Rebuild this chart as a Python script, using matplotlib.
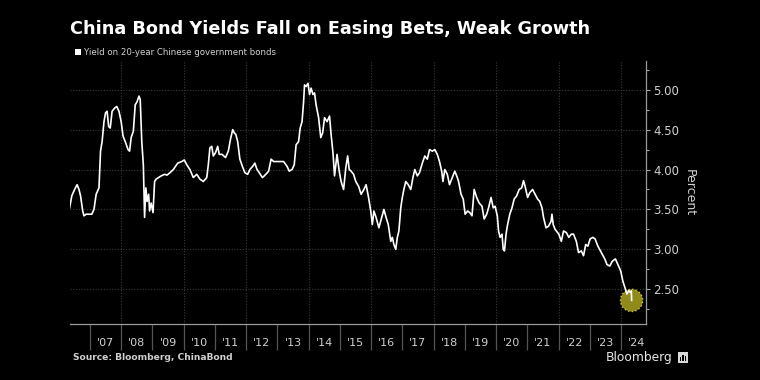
import matplotlib
matplotlib.use('Agg')
import matplotlib.pyplot as plt
from matplotlib.ticker import FixedLocator, MultipleLocator, FormatStrFormatter
from matplotlib.patches import Rectangle

# 20-year Chinese government bond yield
# time as decimal years, yield in percent
t = [2006.35, 2006.42, 2006.51, 2006.59, 2006.65, 2006.70, 2006.77, 2006.81, 2006.88,
     2007.06, 2007.13, 2007.20, 2007.29, 2007.34, 2007.39, 2007.45, 2007.50, 2007.55,
     2007.60, 2007.65, 2007.71, 2007.79, 2007.86, 2007.93, 2008.00, 2008.06, 2008.13,
     2008.22, 2008.27, 2008.32, 2008.39, 2008.45, 2008.51, 2008.57, 2008.61, 2008.66,
     2008.71, 2008.75, 2008.79, 2008.83, 2008.88, 2008.91, 2008.96, 2009.02, 2009.07,
     2009.12, 2009.20, 2009.28, 2009.39, 2009.47,
     2009.56, 2009.67, 2009.81, 2009.94, 2010.02, 2010.10, 2010.20, 2010.31, 2010.42,
     2010.52, 2010.63, 2010.74, 2010.79, 2010.84, 2010.90, 2010.95, 2011.02, 2011.09,
     2011.14, 2011.23, 2011.34, 2011.43, 2011.50, 2011.57, 2011.62, 2011.67, 2011.73,
     2011.80, 2011.88, 2011.96, 2012.05, 2012.12, 2012.21, 2012.28, 2012.35, 2012.42,
     2012.52, 2012.58,
     2012.63, 2012.72, 2012.80, 2012.88, 2013.04, 2013.20, 2013.31, 2013.38, 2013.47,
     2013.54, 2013.60, 2013.68, 2013.73, 2013.79, 2013.84, 2013.87, 2013.92, 2013.98,
     2014.03, 2014.08, 2014.14, 2014.19, 2014.24, 2014.32, 2014.39, 2014.45, 2014.51,
     2014.59, 2014.67, 2014.72, 2014.78, 2014.83, 2014.91, 2014.98, 2015.04, 2015.12,
     2015.19, 2015.25, 2015.30, 2015.36, 2015.44, 2015.51, 2015.60, 2015.68,
     2015.77, 2015.84, 2015.91, 2015.99, 2016.04, 2016.09, 2016.16, 2016.25, 2016.34,
     2016.41, 2016.48, 2016.55, 2016.63, 2016.68, 2016.73, 2016.79, 2016.84, 2016.89,
     2016.95, 2017.00, 2017.05, 2017.11, 2017.19, 2017.27, 2017.34, 2017.40, 2017.48,
     2017.55, 2017.64, 2017.72, 2017.80, 2017.87, 2017.96, 2018.04, 2018.12, 2018.19,
     2018.26, 2018.30, 2018.36, 2018.44, 2018.51, 2018.60, 2018.68, 2018.76, 2018.80,
     2018.88, 2018.95, 2019.01, 2019.09, 2019.16, 2019.23, 2019.30, 2019.38, 2019.46,
     2019.55, 2019.62, 2019.70, 2019.76, 2019.84, 2019.91, 2019.97, 2020.04, 2020.08,
     2020.13, 2020.19, 2020.23, 2020.27, 2020.32, 2020.37, 2020.44, 2020.51, 2020.58,
     2020.66, 2020.74, 2020.82, 2020.88, 2020.93, 2021.01, 2021.08, 2021.17, 2021.25,
     2021.33, 2021.40, 2021.47, 2021.52, 2021.60, 2021.68, 2021.76, 2021.79, 2021.83,
     2021.89,
     2022.01, 2022.09, 2022.16, 2022.25, 2022.33, 2022.41, 2022.48, 2022.57, 2022.64,
     2022.73, 2022.80, 2022.87, 2022.94, 2023.01, 2023.10, 2023.17, 2023.26, 2023.37,
     2023.48, 2023.55, 2023.64, 2023.72, 2023.82, 2023.90, 2023.99, 2024.06, 2024.14,
     2024.19, 2024.25, 2024.30, 2024.33, 2024.34]

yld = [3.52, 3.67, 3.75, 3.81, 3.75, 3.67, 3.48, 3.42, 3.44,
       3.44, 3.50, 3.69, 3.77, 4.23, 4.35, 4.60, 4.71, 4.73,
       4.54, 4.52, 4.73, 4.77, 4.79, 4.73, 4.60, 4.42, 4.35,
       4.25, 4.23, 4.40, 4.48, 4.81, 4.85, 4.92, 4.88, 4.35,
       4.06, 3.40, 3.77, 3.60, 3.69, 3.48, 3.58, 3.46, 3.85,
       3.88, 3.90, 3.92, 3.94, 3.93,
       3.96, 4.00, 4.08, 4.10, 4.12, 4.06, 4.00, 3.90, 3.94,
       3.88, 3.85, 3.90, 4.06, 4.27, 4.29, 4.17, 4.21, 4.29,
       4.19, 4.19, 4.15, 4.23, 4.38, 4.50, 4.46, 4.44, 4.35,
       4.13, 4.04, 3.96, 3.94, 4.00, 4.04, 4.08, 4.00, 3.96,
       3.90, 3.92,
       3.94, 3.98, 4.13, 4.10, 4.10, 4.10, 4.04, 3.98, 4.00,
       4.06, 4.31, 4.35, 4.52, 4.60, 4.85, 5.06, 5.04, 5.08,
       4.94, 5.02, 4.94, 4.96, 4.81, 4.65, 4.40, 4.46, 4.65,
       4.60, 4.67, 4.44, 4.21, 3.92, 4.19, 3.98, 3.85, 3.75,
       4.02, 4.17, 4.00, 3.98, 3.94, 3.85, 3.79, 3.69,
       3.75, 3.81, 3.67, 3.48, 3.31, 3.48, 3.40, 3.27, 3.40,
       3.50, 3.40, 3.31, 3.10, 3.15, 3.06, 3.00, 3.15, 3.23,
       3.52, 3.65, 3.75, 3.85, 3.81, 3.75, 3.90, 4.00, 3.92,
       3.96, 4.08, 4.17, 4.13, 4.25, 4.23, 4.25, 4.19, 4.10,
       3.98, 3.85, 4.00, 3.94, 3.81, 3.90, 3.98, 3.90, 3.85,
       3.69, 3.63, 3.44, 3.48, 3.46, 3.42, 3.75, 3.65, 3.58,
       3.54, 3.38, 3.44, 3.52, 3.65, 3.52, 3.54, 3.42, 3.23,
       3.15, 3.19, 3.00, 2.98, 3.19, 3.31, 3.44, 3.52, 3.63,
       3.67, 3.75, 3.77, 3.86, 3.79, 3.65, 3.71, 3.75, 3.69,
       3.63, 3.60, 3.52, 3.40, 3.27, 3.29, 3.35, 3.44, 3.31,
       3.25,
       3.19, 3.10, 3.23, 3.21, 3.15, 3.19, 3.19, 3.10, 2.96,
       2.98, 2.92, 3.06, 3.04, 3.13, 3.15, 3.13, 3.04, 2.96,
       2.88, 2.81, 2.79, 2.85, 2.88, 2.81, 2.73, 2.60, 2.50,
       2.44, 2.48, 2.46, 2.48, 2.36]

years = list(range(2007, 2025))
year_labels = ["'%02d" % (y % 100) for y in years]
y_ticks = [2.50, 3.00, 3.50, 4.00, 4.50, 5.00]

bg = '#000000'
txt = '#d0d0d0'
grid_c = '#3a3a3a'

fig = plt.figure(figsize=(7.6, 3.8), dpi=100, facecolor=bg)
ax = fig.add_axes([0.092, 0.147, 0.758, 0.693], facecolor=bg)

ax.plot(t, yld, color='white', lw=1.2, zorder=3)
ax.scatter([t[-1]], [yld[-1]], s=16 ** 2, facecolor='#a09a1c', edgecolor='#d8d04c',
           linestyle=':', linewidth=1.0, alpha=0.9, zorder=2)

ax.set_xlim(2006.36, 2024.80)
ax.set_ylim(2.0625, 5.3625)

# x axis: boundary ticks every year, labels in the middle of each year
ax.xaxis.set_major_locator(FixedLocator(years))
ax.xaxis.set_minor_locator(FixedLocator([y + 0.5 for y in years]))
ax.set_xticklabels([], minor=False)
ax.set_xticklabels(year_labels, minor=True)
ax.tick_params(axis='x', which='major', length=19, width=0.9, color='#555555', direction='out')
ax.tick_params(axis='x', which='minor', length=0, pad=10, labelsize=8, labelcolor=txt)

# y axis on the right
ax.yaxis.tick_right()
ax.yaxis.set_label_position('right')
ax.set_yticks(y_ticks)
ax.yaxis.set_major_formatter(FormatStrFormatter('%.2f'))
ax.yaxis.set_minor_locator(MultipleLocator(0.25))
ax.tick_params(axis='y', which='major', length=3, width=0.8, color='#aaaaaa', pad=2,
               labelsize=8.5, labelcolor=txt)
ax.tick_params(axis='y', which='minor', length=2, width=0.8, color='#aaaaaa')
ax.set_ylabel('Percent', rotation=270, labelpad=12, color=txt, fontsize=9)

for y in y_ticks:
    ax.axhline(y, color=grid_c, lw=0.8, ls=(0, (1, 1.5)), zorder=1)
for yr in range(2008, 2025, 2):
    ax.axvline(yr, color=grid_c, lw=0.8, ls=(0, (1, 1.5)), zorder=1)

for side in ['left', 'top']:
    ax.spines[side].set_visible(False)
ax.spines['bottom'].set_color('#9a9a9a')
ax.spines['right'].set_color('#9a9a9a')
ax.spines['bottom'].set_linewidth(0.9)
ax.spines['right'].set_linewidth(0.9)

fig.text(0.092, 0.924, 'China Bond Yields Fall on Easing Bets, Weak Growth',
         color='white', fontsize=12.7, fontweight='bold', va='center', ha='left')
fig.patches.append(Rectangle((0.099, 0.855), 0.0075, 0.016, transform=fig.transFigure,
                             facecolor='white', edgecolor='none'))
fig.text(0.110, 0.863, 'Yield on 20-year Chinese government bonds',
         color=txt, fontsize=6.2, va='center', ha='left')
fig.text(0.096, 0.058, 'Source: Bloomberg, ChinaBond',
         color=txt, fontsize=6.6, fontweight='bold', va='center', ha='left')
fig.text(0.885, 0.060, 'Bloomberg', color='#e8e8e8', fontsize=8.8,
         va='center', ha='right')
fig.patches.append(Rectangle((0.892, 0.044), 0.013, 0.030, transform=fig.transFigure,
                             facecolor='#d8d8d8', edgecolor='none'))
for i, h in enumerate([0.010, 0.016, 0.012]):
    fig.patches.append(Rectangle((0.8945 + i * 0.0032, 0.050), 0.0017, h,
                                 transform=fig.transFigure, facecolor=bg, edgecolor='none'))

fig.savefig('out.png', dpi=100, facecolor=bg)
